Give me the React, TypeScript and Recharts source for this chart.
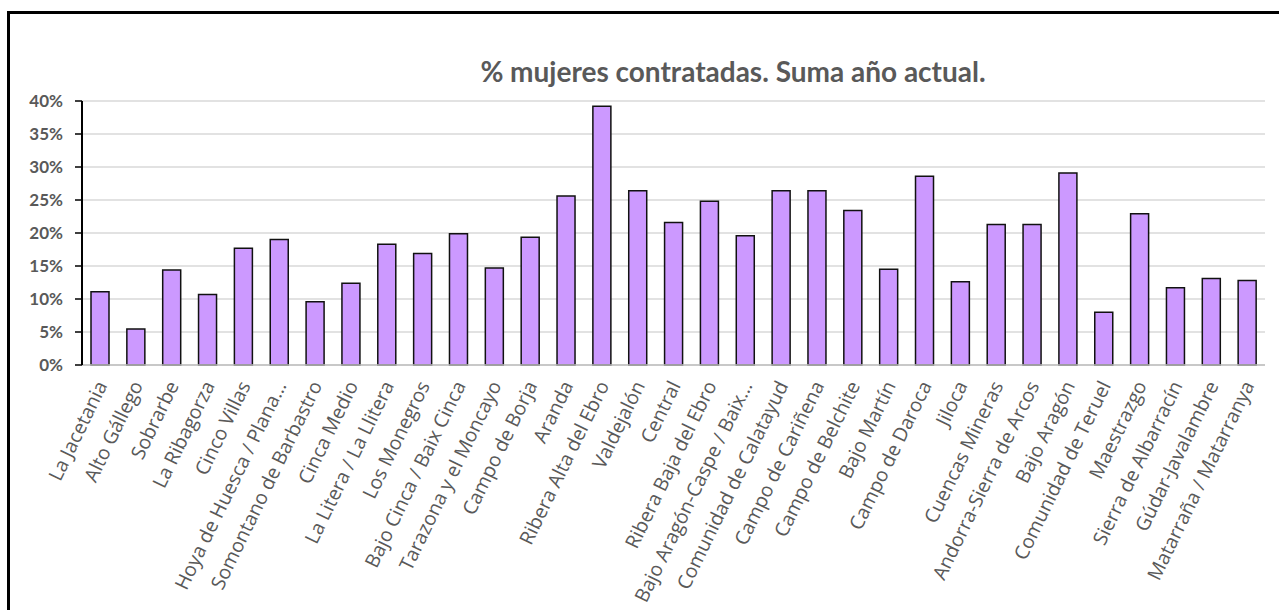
import { BarChart, Bar, XAxis, YAxis, CartesianGrid } from "recharts"

const comarcas = [
  "La Jacetania",
  "Alto Gállego",
  "Sobrarbe",
  "La Ribagorza",
  "Cinco Villas",
  "Hoya de Huesca / Plana…",
  "Somontano de Barbastro",
  "Cinca Medio",
  "La Litera / La Llitera",
  "Los Monegros",
  "Bajo Cinca / Baix Cinca",
  "Tarazona y el Moncayo",
  "Campo de Borja",
  "Aranda",
  "Ribera Alta del Ebro",
  "Valdejalón",
  "Central",
  "Ribera Baja del Ebro",
  "Bajo Aragón-Caspe / Baix…",
  "Comunidad de Calatayud",
  "Campo de Cariñena",
  "Campo de Belchite",
  "Bajo Martín",
  "Campo de Daroca",
  "Jiloca",
  "Cuencas Mineras",
  "Andorra-Sierra de Arcos",
  "Bajo Aragón",
  "Comunidad de Teruel",
  "Maestrazgo",
  "Sierra de Albarracín",
  "Gúdar-Javalambre",
  "Matarraña / Matarranya",
]

// % mujeres contratadas
const pctMujeres = [
  11.1, 5.45, 14.4, 10.7, 17.7, 19.0, 9.6, 12.4, 18.3, 16.9, 19.9, 14.7, 19.35,
  25.6, 39.2, 26.4, 21.6, 24.8, 19.6, 26.4, 26.4, 23.4, 14.5, 28.6, 12.6, 21.3,
  21.3, 29.1, 8.0, 22.9, 11.7, 13.1, 12.8,
]

const yTicks = [0, 5, 10, 15, 20, 25, 30, 35, 40]

const data = comarcas.map((name, i) => ({ name, pct: pctMujeres[i] }))

const GRAY = "#595959"
const FONT = "Lato, 'Open Sans', sans-serif"
const LABEL_FONT = "'Open Sans', 'Noto Sans', sans-serif"

function RotatedTick({ x = 0, y = 0, payload }: { x?: number; y?: number; payload?: { value: string } }) {
  return (
    <g transform={`translate(${x + 1},${y + 9}) rotate(-64)`}>
      <text
        textAnchor="end"
        dominantBaseline="central"
        fill={GRAY}
        fontSize={19.5}
        fontFamily={LABEL_FONT}
      >
        {payload?.value}
      </text>
    </g>
  )
}

export default function App() {
  return (
    <div
      style={{
        position: "absolute",
        left: 0,
        top: 0,
        width: 1279,
        height: 610,
        overflow: "hidden",
        background: "#fff",
      }}
    >
      <div
        style={{
          position: "absolute",
          left: 7,
          top: 11,
          width: 1400,
          height: 800,
          border: "3px solid #000",
        }}
      />
      <div
        style={{
          position: "absolute",
          left: 0,
          width: 1466,
          top: 57,
          textAlign: "center",
          fontFamily: FONT,
          fontWeight: 700,
          fontSize: 28,
          lineHeight: "28px",
          color: GRAY,
        }}
      >
        % mujeres contratadas. Suma año actual.
      </div>
      <div style={{ position: "absolute", left: 0, top: 0 }}>
        <BarChart
          width={1279}
          height={610}
          data={data}
          margin={{ top: 101, right: 14, bottom: 45, left: 22 }}
        >
          <CartesianGrid vertical={false} stroke="#D9D9D9" strokeWidth={1.5} />
          <XAxis
            dataKey="name"
            interval={0}
            height={200}
            axisLine={{ stroke: "#BFBFBF", strokeWidth: 1.5 }}
            tickLine={false}
            tick={<RotatedTick />}
          />
          <YAxis
            width={60}
            domain={[0, 40]}
            ticks={yTicks}
            interval={0}
            tickFormatter={(v: number) => `${v}%`}
            axisLine={{ stroke: "#000", strokeWidth: 2 }}
            tickLine={{ stroke: "#000", strokeWidth: 1.5 }}
            tickSize={7}
            tickMargin={12}
            tick={{ fill: GRAY, fontSize: 17, fontWeight: 700, fontFamily: FONT }}
          />
          <Bar
            dataKey="pct"
            fill="#CC99FF"
            stroke="#111"
            strokeWidth={1.5}
            barSize={18}
            isAnimationActive={false}
          />
        </BarChart>
      </div>
    </div>
  )
}
